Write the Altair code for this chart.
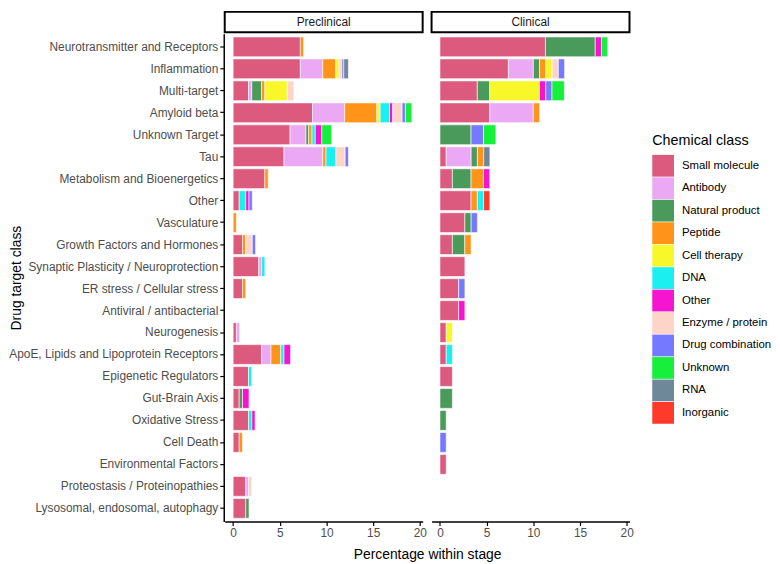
import altair as alt
import pandas as pd

targets = [
    "Neurotransmitter and Receptors", "Inflammation", "Multi-target", "Amyloid beta",
    "Unknown Target", "Tau", "Metabolism and Bioenergetics", "Other", "Vasculature",
    "Growth Factors and Hormones", "Synaptic Plasticity / Neuroprotection",
    "ER stress / Cellular stress", "Antiviral / antibacterial", "Neurogenesis",
    "ApoE, Lipids and Lipoprotein Receptors", "Epigenetic Regulators", "Gut-Brain Axis",
    "Oxidative Stress", "Cell Death", "Environmental Factors",
    "Proteostasis / Proteinopathies", "Lysosomal, endosomal, autophagy",
]
classes = ["Small molecule", "Antibody", "Natural product", "Peptide", "Cell therapy", "DNA",
           "Other", "Enzyme / protein", "Drug combination", "Unknown", "RNA", "Inorganic"]
colors = ["#DB5A7E", "#EBA9F5", "#4A9A5B", "#FF9419", "#F7F72A", "#1AF0F0",
          "#F515D0", "#FFD4C8", "#7579FF", "#16F03C", "#6F8899", "#FF3A2A"]
stages = ["Preclinical", "Clinical"]

# Preclinical (% within stage), one list per chemical class, in target order
pre_small_molecule = [7.2, 7.2, 1.65, 8.5, 6.1, 5.45, 3.4, 0.65, 0, 1.0, 2.75, 1.0, 0, 0.35, 3.05, 1.65, 0.65, 1.65, 0.65, 0, 1.35, 1.35]
pre_antibody       = [0, 2.4, 0.35, 3.45, 1.7, 4.15, 0, 0, 0, 0, 0.3, 0, 0, 0.35, 1.0, 0, 0, 0, 0, 0, 0.3, 0]
pre_natural        = [0, 0, 1.05, 0, 0.3, 0, 0, 0, 0, 0, 0, 0, 0, 0, 0, 0, 0.35, 0, 0, 0, 0, 0.35]
pre_peptide        = [0.35, 1.4, 0.35, 3.45, 0.35, 0.35, 0.35, 0, 0.35, 0.35, 0, 0.35, 0, 0, 1.05, 0, 0, 0, 0.35, 0, 0, 0]
pre_cell_therapy   = [0, 0.35, 2.4, 0.35, 0, 0, 0, 0, 0, 0, 0, 0, 0, 0, 0, 0, 0, 0, 0, 0, 0, 0]
pre_dna            = [0, 0, 0, 1.0, 0.35, 1.05, 0, 0.7, 0, 0, 0.35, 0, 0, 0, 0.35, 0.35, 0, 0.35, 0, 0, 0, 0]
pre_other          = [0, 0, 0, 0.35, 0.7, 0, 0, 0.35, 0, 0, 0, 0, 0, 0, 0.7, 0, 0.7, 0.35, 0, 0, 0, 0]
pre_enzyme         = [0, 0.3, 0.7, 1.0, 0, 1.0, 0, 0, 0, 0.7, 0, 0, 0, 0, 0, 0, 0, 0, 0, 0, 0.35, 0]
pre_drug_combo     = [0, 0.2, 0, 0.35, 0, 0.35, 0, 0.35, 0, 0.35, 0, 0, 0, 0, 0, 0, 0, 0, 0, 0, 0, 0]
pre_unknown        = [0, 0, 0, 0.7, 1.05, 0, 0, 0, 0, 0, 0, 0, 0, 0, 0, 0, 0, 0, 0, 0, 0, 0]
pre_rna            = [0, 0.5, 0, 0, 0, 0, 0, 0, 0, 0, 0, 0, 0, 0, 0, 0, 0, 0, 0, 0, 0, 0]
pre_inorganic      = [0] * 22

# Clinical (% within stage)
cli_small_molecule = [11.3, 7.33, 4.0, 5.33, 0, 0.67, 1.33, 3.33, 2.67, 1.33, 2.67, 2.0, 2.0, 0.67, 0.67, 1.33, 0, 0, 0, 0.67, 0, 0]
cli_antibody       = [0, 2.67, 0, 4.67, 0, 2.67, 0, 0, 0, 0, 0, 0, 0, 0, 0, 0, 0, 0, 0, 0, 0, 0]
cli_natural        = [5.33, 0.67, 1.33, 0, 3.33, 0.67, 2.0, 0, 0.67, 1.33, 0, 0, 0, 0, 0, 0, 1.33, 0.67, 0, 0, 0, 0]
cli_peptide        = [0, 0.67, 0, 0.67, 0, 0.67, 1.33, 0.67, 0, 0.67, 0, 0, 0, 0, 0, 0, 0, 0, 0, 0, 0, 0]
cli_cell_therapy   = [0, 0.67, 5.33, 0, 0, 0, 0, 0, 0, 0, 0, 0, 0, 0.67, 0, 0, 0, 0, 0, 0, 0, 0]
cli_dna            = [0, 0, 0, 0, 0, 0, 0, 0.67, 0, 0, 0, 0, 0, 0, 0.67, 0, 0, 0, 0, 0, 0, 0]
cli_other          = [0.67, 0, 0.67, 0, 0, 0, 0.67, 0, 0, 0, 0, 0, 0.67, 0, 0, 0, 0, 0, 0, 0, 0, 0]
cli_enzyme         = [0, 0.67, 0, 0, 0, 0, 0, 0, 0, 0, 0, 0, 0, 0, 0, 0, 0, 0, 0, 0, 0, 0]
cli_drug_combo     = [0, 0.67, 0.67, 0, 1.33, 0, 0, 0, 0.67, 0, 0, 0.67, 0, 0, 0, 0, 0, 0, 0.67, 0, 0, 0]
cli_unknown        = [0.67, 0, 1.33, 0, 1.33, 0, 0, 0, 0, 0, 0, 0, 0, 0, 0, 0, 0, 0, 0, 0, 0, 0]
cli_rna            = [0, 0, 0, 0, 0, 0.67, 0, 0, 0, 0, 0, 0, 0, 0, 0, 0, 0, 0, 0, 0, 0, 0]
cli_inorganic      = [0, 0, 0, 0, 0, 0, 0, 0.67, 0, 0, 0, 0, 0, 0, 0, 0, 0, 0, 0, 0, 0, 0]

pre_series = [pre_small_molecule, pre_antibody, pre_natural, pre_peptide, pre_cell_therapy, pre_dna,
              pre_other, pre_enzyme, pre_drug_combo, pre_unknown, pre_rna, pre_inorganic]
cli_series = [cli_small_molecule, cli_antibody, cli_natural, cli_peptide, cli_cell_therapy, cli_dna,
              cli_other, cli_enzyme, cli_drug_combo, cli_unknown, cli_rna, cli_inorganic]

rows = []
for stage, series in zip(stages, [pre_series, cli_series]):
    for ci, (cls, vals) in enumerate(zip(classes, series)):
        for t, v in zip(targets, vals):
            if v > 0:
                rows.append({"stage": stage, "target": t, "cls": cls, "ci": ci, "value": v})
df = pd.DataFrame(rows)

W = 200
H = 493
FONT = "Liberation Sans"

bars = alt.Chart().mark_bar(stroke="white", strokeWidth=0.6).encode(
    x=alt.X("value:Q", stack="zero",
            scale=alt.Scale(domain=[-0.9, 20.3], nice=False, zero=False),
            axis=alt.Axis(values=[0, 5, 10, 15, 20], title=None, grid=False,
                          domainColor="black", domainWidth=1.5, tickColor="black",
                          tickWidth=1.2, tickSize=4, labelPadding=2, labelFontSize=12,
                          labelColor="#4d4d4d", labelFont=FONT)),
    y=alt.Y("target:N", sort=targets,
            scale=alt.Scale(paddingInner=0.1, paddingOuter=0.15),
            axis=alt.Axis(title="Drug target class", titleFontSize=14, titleFontWeight="normal",
                          titleColor="black", titleFont=FONT, titlePadding=2,
                          domainColor="black", domainWidth=1.5, tickColor="black",
                          tickWidth=1.2, tickSize=4, labelPadding=2, labelFontSize=12,
                          labelColor="#4d4d4d", labelFont=FONT, labelLimit=400)),
    color=alt.Color("cls:N", scale=alt.Scale(domain=classes, range=colors),
                    legend=alt.Legend(title="Chemical class", orient="none",
                                      legendX=2 * W + 7 + 25, legendY=102,
                                      titleFontSize=14.5, titleFontWeight="normal",
                                      titleColor="black", titleFont=FONT, titlePadding=6,
                                      labelFontSize=11.5, labelColor="black", labelFont=FONT,
                                      symbolType="square", symbolSize=484,
                                      symbolStrokeWidth=0, symbolOpacity=1,
                                      rowPadding=0.7, labelOffset=8)),
    order=alt.Order("ci:Q", sort="ascending"),
)

header_box = alt.Chart().transform_aggregate(
    n="count()", groupby=["stage"]
).mark_rect(fill="white", stroke="black", strokeWidth=2).encode(
    x=alt.value(0), x2=alt.value(W), y=alt.value(-22), y2=alt.value(-1.5)
)

header_text = alt.Chart().transform_aggregate(
    n="count()", groupby=["stage"]
).mark_text(fontSize=12, font=FONT, color="#1a1a1a", baseline="middle").encode(
    x=alt.value(W / 2), y=alt.value(-11.5), text="stage:N"
)

chart = alt.layer(bars, header_box, header_text, data=df).properties(
    width=W, height=H
).facet(
    column=alt.Column("stage:N", sort=stages,
                      header=alt.Header(labels=False, labelPadding=0,
                                        title="Percentage within stage",
                                        titleOrient="bottom", titleFontSize=14,
                                        titleFontWeight="normal", titleColor="black",
                                        titleFont=FONT, titlePadding=0)),
    spacing=7,
).properties(
    padding=0
).configure_view(
    stroke=None
)

chart.save("out.html", embed_options={"renderer": "svg", "actions": False})
